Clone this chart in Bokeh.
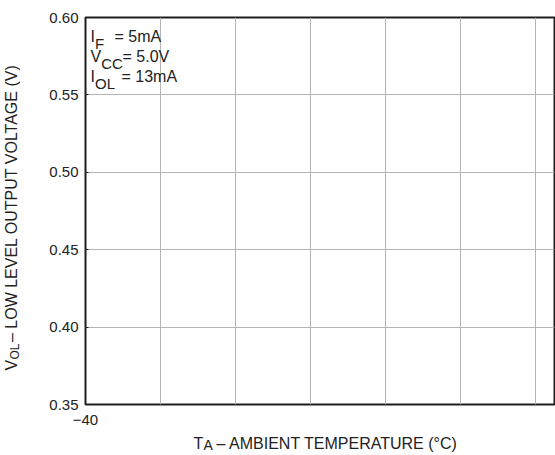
from bokeh.plotting import figure
from bokeh.models import Range1d, FixedTicker, PrintfTickFormatter, Label, Title
from bokeh.embed import file_html
from bokeh.resources import INLINE

# ---- data ----
x_range_limits = [-40, 85]
y_range_limits = [0.35, 0.60]
x_label_ticks = [-40]
x_grid_ticks = [-20, 0, 20, 40, 60, 80]
y_ticks = [0.35, 0.40, 0.45, 0.50, 0.55, 0.60]
y_grid_ticks = [0.40, 0.45, 0.50, 0.55]
conditions = [("I", "F", "= 5mA"), ("V", "CC", "= 5.0V"), ("I", "OL", "= 13mA")]
x_title = ("T", "A", "– AMBIENT TEMPERATURE (°C)")
y_title = ("V", "OL", "– LOW LEVEL OUTPUT VOLTAGE (V)")

FONT = "Liberation Sans"
TXT = "#222222"
NB = "\u00a0"
W, H = 555, 455
ML, MR, MT, MB = 85, 1, 17, 51

p = figure(width=W, height=H, output_backend="svg", toolbar_location=None,
           x_range=Range1d(*x_range_limits), y_range=Range1d(*y_range_limits),
           min_border_left=ML, min_border_right=MR, min_border_top=MT, min_border_bottom=MB)
p.background_fill_color = "white"
p.border_fill_color = "white"
p.outline_line_color = "#1e1e1e"
p.outline_line_width = 2

# axes
p.xaxis.ticker = FixedTicker(ticks=x_label_ticks)
p.yaxis.ticker = FixedTicker(ticks=y_ticks)
p.yaxis.formatter = PrintfTickFormatter(format="%.2f")
for ax in (p.xaxis[0], p.yaxis[0]):
    ax.axis_line_color = None
    ax.major_tick_in = 3
    ax.major_tick_out = 0
    ax.major_tick_line_color = "#1e1e1e"
    ax.minor_tick_line_color = None
    ax.major_label_text_font = FONT
    ax.major_label_text_font_size = "15px"
    ax.major_label_text_color = TXT
p.yaxis.major_label_standoff = 7
p.xaxis.major_label_standoff = 10
# invisible spacers that push the title rows outwards
p.xaxis.axis_label = NB
p.xaxis.axis_label_text_font_size = "1px"
p.xaxis.axis_label_standoff = 3
p.yaxis.axis_label = NB
p.yaxis.axis_label_text_font_size = "10px"
p.yaxis.axis_label_standoff = 11

# grid
p.xgrid.ticker = FixedTicker(ticks=x_grid_ticks)
p.ygrid.ticker = FixedTicker(ticks=y_grid_ticks)
for g in (p.xgrid[0], p.ygrid[0]):
    g.grid_line_color = "#b4b4b4"
    g.grid_line_width = 1

def side_title(text, side, size, offset, standoff, valign):
    p.add_layout(Title(text=text, align="left", vertical_align=valign,
                       offset=offset, standoff=standoff,
                       text_font=FONT, text_font_size=size, text_font_style="normal",
                       text_color=TXT), side)

# x-axis title:  T_A – AMBIENT TEMPERATURE (°C)
side_title(x_title[0] + NB * 3 + x_title[2], "below", "16px", 108, 0, "top")
side_title(x_title[1], "below", "14px", 118, -33, "top")
# y-axis title:  V_OL – LOW LEVEL OUTPUT VOLTAGE (V)   (sub row sits closer to the frame)
side_title(y_title[1], "left", "12px", 45, 0, "bottom")
side_title(y_title[0] + NB * 4 + y_title[2], "left", "16px", 34, -28, "bottom")

def lab(text, x, y, size):
    p.add_layout(Label(x=x, y=y, x_units="screen", y_units="screen", text=text,
                       text_font=FONT, text_font_size=size, text_color=TXT,
                       text_align="left", text_baseline="alphabetic"))

# condition annotation
main_x = [5, 5, 5]
sub_x = [9.5, 15.7, 9.5]
rest_x = [29, 37, 36]
base_y = [368, 348, 328]
for (m, s, r), mx, sx, rx, by in zip(conditions, main_x, sub_x, rest_x, base_y):
    lab(m, mx, by, "16px")
    lab(s, sx, by - 7, "15px")
    lab(r, rx, by, "16px")

open("out.html", "w").write(file_html(p, INLINE))
